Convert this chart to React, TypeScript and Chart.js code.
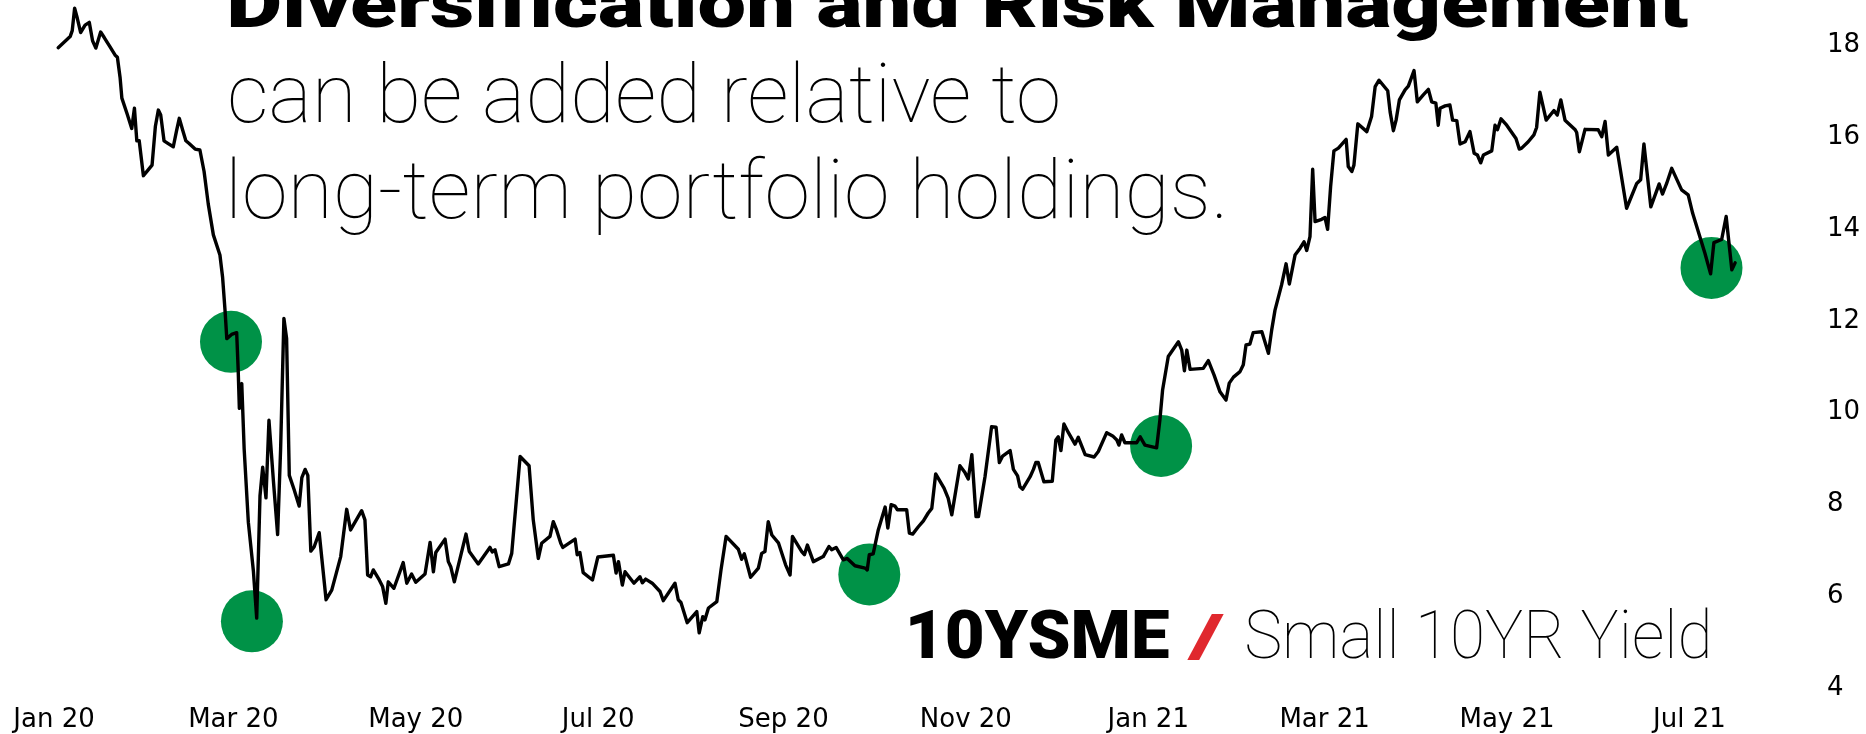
import React, { useEffect, useRef } from 'react';
import { Chart, registerables } from 'chart.js';

Chart.register(...registerables);

// ---- data (x = days since 1 Jan 2020, y = yield value) ----
const dayOffsets = [
  1.4, 5.4, 6.1, 6.9, 7.8, 8.9, 10.4, 11.8, 12.9, 14.0, 15.6, 16.8, 18.7, 20.4, 21.2, 22.1, 22.7, 24.5, 26.0, 26.9,
  27.7, 28.5, 29.9, 31.3, 32.8, 33.9, 34.9, 35.7, 36.8, 38.2, 39.9, 41.0, 41.9, 43.1, 44.1, 45.2, 47.2, 48.8, 50.2, 51.6,
  53.3, 55.5, 56.4, 57.2, 57.8, 59.4, 61.1, 61.6, 62.0, 62.8, 63.6, 65.0, 66.7, 67.8, 68.9, 69.8, 70.9, 71.9, 73.4, 74.8,
  75.8, 76.9, 77.8, 78.7, 80.3, 82.0, 82.9, 84.0, 84.9, 85.9, 87.0, 88.7, 91.0, 92.9, 95.9, 97.9, 99.2, 102.9, 104.0, 104.9,
  105.9, 106.8, 108.8, 109.9, 111.0, 111.8, 113.7, 116.8, 118.0, 119.6, 121.0, 124.1, 125.8, 126.9, 127.7, 130.8, 131.9, 132.7, 133.9, 137.8,
  138.9, 141.9, 145.8, 146.6, 147.5, 148.9, 152.0, 153.1, 155.9, 158.9, 160.3, 162.0, 163.1, 165.9, 167.0, 168.1, 169.5, 170.2, 174.3, 175.0,
  175.9, 177.0, 180.1, 181.9, 187.1, 188.0, 188.8, 190.1, 191.0, 194.0, 196.0, 196.8, 197.9, 200.1, 202.7, 203.8, 207.7, 208.8, 209.7, 211.8,
  215.0, 215.8, 217.0, 217.7, 218.9, 221.7, 223.1, 224.8, 228.9, 230.0, 230.9, 233.0, 235.6, 236.7, 237.8, 238.9, 240.1, 242.3, 244.7, 246.2,
  247.0, 250.1, 251.0, 252.0, 254.0, 257.3, 259.2, 260.1, 261.6, 264.0, 265.3, 267.9, 271.3, 272.0, 272.7, 274.0, 275.7, 278.0, 278.9, 280.0,
  281.3, 282.1, 285.2, 286.1, 287.2, 289.1, 290.8, 292.4, 293.6, 294.9, 297.7, 299.1, 300.3, 303.0, 304.7, 305.8, 307.0, 308.4, 309.2, 311.4,
  313.6, 315.1, 316.2, 317.3, 319.8, 320.9, 322.3, 323.1, 324.0, 326.5, 327.6, 328.4, 329.2, 331.1, 333.9, 335.1, 335.9, 336.8, 337.8, 339.3,
  341.5, 342.6, 344.9, 347.9, 349.3, 352.1, 354.1, 355.5, 356.2, 357.1, 358.2, 362.1, 363.3, 364.9, 368.8, 369.9, 370.8, 372.7, 376.1, 377.2,
  378.1, 378.9, 380.0, 384.4, 386.1, 388.0, 390.0, 392.0, 393.1, 394.5, 396.7, 397.8, 398.7, 400.0, 401.1, 404.0, 406.2, 407.3, 408.4, 410.6,
  412.1, 413.2, 415.1, 416.8, 418.1, 419.0, 420.1, 421.0, 421.8, 424.0, 425.1, 426.0, 427.0, 428.1, 429.6, 432.2, 432.9, 434.1, 434.8, 436.1,
  439.1, 440.7, 441.9, 443.2, 446.1, 446.9, 448.0, 448.9, 450.0, 451.9, 453.0, 454.9, 456.0, 458.0, 459.7, 460.8, 462.2, 463.0, 463.6, 465.3,
  466.9, 467.8, 469.2, 470.3, 472.0, 473.6, 475.0, 476.1, 477.2, 478.1, 480.9, 482.0, 482.8, 484.0, 485.9, 489.0, 490.1, 490.9, 493.1, 495.0,
  495.9, 497.0, 499.1, 501.7, 502.8, 504.0, 505.4, 508.8, 509.3, 510.2, 512.1, 516.5, 517.7, 518.8, 519.9, 522.7, 526.0, 529.4, 530.7, 531.8,
  534.1, 536.9, 538.0, 539.4, 541.1, 544.4, 546.6, 548.1, 552.2, 554.1, 555.2, 557.8, 559.3, 561.2, 562.3,
];

const yieldValues = [
  17.91, 18.15, 18.28, 18.77, 18.55, 18.24, 18.40, 18.46, 18.06, 17.90, 18.25, 18.13, 17.93, 17.75, 17.70, 17.26, 16.81, 16.46, 16.15, 16.59,
  15.88, 15.88, 15.12, 15.23, 15.35, 16.19, 16.55, 16.44, 15.88, 15.82, 15.75, 16.10, 16.37, 16.10, 15.88, 15.82, 15.70, 15.68, 15.21, 14.50,
  13.83, 13.39, 12.90, 12.19, 11.57, 11.66, 11.70, 10.90, 10.05, 10.59, 9.17, 7.57, 6.50, 5.48, 8.14, 8.77, 8.10, 9.79, 8.46, 7.30,
  9.17, 12.01, 11.57, 8.59, 8.28, 7.92, 8.54, 8.72, 8.59, 6.94, 7.03, 7.34, 5.88, 6.09, 6.82, 7.85, 7.40, 7.82, 7.62, 6.42,
  6.38, 6.53, 6.31, 6.17, 5.80, 6.27, 6.13, 6.69, 6.24, 6.44, 6.26, 6.44, 7.13, 6.49, 6.91, 7.20, 6.71, 6.60, 6.27, 7.31,
  6.93, 6.66, 7.02, 6.92, 6.97, 6.60, 6.66, 6.89, 9.00, 8.80, 7.62, 6.78, 7.11, 7.26, 7.58, 7.40, 7.11, 7.02, 7.20, 6.86,
  6.91, 6.47, 6.31, 6.81, 6.85, 6.46, 6.71, 6.20, 6.49, 6.24, 6.38, 6.25, 6.33, 6.24, 6.06, 5.86, 6.24, 5.88, 5.82, 5.38,
  5.62, 5.16, 5.51, 5.44, 5.70, 5.84, 6.53, 7.26, 6.98, 6.76, 6.88, 6.37, 6.57, 6.89, 6.93, 7.58, 7.29, 7.12, 6.64, 6.42,
  7.26, 6.93, 6.86, 7.07, 6.71, 6.82, 7.04, 6.97, 7.02, 6.75, 6.78, 6.62, 6.57, 6.53, 6.86, 6.88, 7.40, 7.90, 7.44, 7.95,
  7.92, 7.84, 7.84, 7.33, 7.31, 7.47, 7.60, 7.77, 7.87, 8.62, 8.31, 8.09, 7.73, 8.80, 8.65, 8.51, 9.04, 7.69, 7.69, 8.56,
  9.65, 9.64, 8.87, 9.01, 9.13, 8.72, 8.58, 8.34, 8.29, 8.56, 8.72, 8.87, 8.87, 8.45, 8.46, 9.36, 9.43, 9.13, 9.71, 9.52,
  9.27, 9.42, 9.04, 8.99, 9.11, 9.52, 9.45, 9.36, 9.25, 9.47, 9.30, 9.30, 9.43, 9.25, 9.19, 9.80, 10.45, 11.18, 11.50, 11.32,
  10.87, 11.32, 10.90, 10.92, 11.09, 10.78, 10.41, 10.23, 10.60, 10.73, 10.85, 11.00, 11.43, 11.45, 11.70, 11.72, 11.25, 11.76, 12.19, 12.74,
  13.20, 12.76, 13.39, 13.54, 13.68, 13.49, 13.79, 15.26, 14.12, 14.17, 14.21, 13.95, 14.88, 15.66, 15.72, 15.91, 15.32, 15.21, 15.35, 16.25,
  16.08, 16.41, 17.06, 17.20, 16.97, 16.51, 16.10, 16.33, 16.77, 16.99, 17.07, 17.41, 16.73, 16.88, 17.00, 16.73, 16.70, 16.22, 16.59, 16.64,
  16.66, 16.33, 16.32, 15.81, 15.86, 16.08, 15.61, 15.57, 15.40, 15.57, 15.66, 16.22, 16.12, 16.36, 16.22, 15.93, 15.70, 15.72, 15.86, 16.01,
  16.17, 16.94, 16.33, 16.54, 16.44, 16.77, 16.33, 16.12, 16.06, 15.64, 16.13, 16.12, 15.97, 16.30, 15.57, 15.74, 14.41, 14.95, 15.03, 15.81,
  14.44, 14.94, 14.72, 14.95, 15.28, 14.81, 14.70, 14.30, 13.43, 12.98, 13.66, 13.73, 14.23, 13.07, 13.22,
];

const highlightDays = [59.2, 66.2, 272.7, 370.3, 554.4];
const highlightValues = [11.5, 5.41, 6.43, 9.23, 13.11];

const xTickDates = ['2020-01-01', '2020-03-01', '2020-05-01', '2020-07-01', '2020-09-01', '2020-11-01', '2021-01-01', '2021-03-01', '2021-05-01', '2021-07-01'];
const xTickLabels = ['Jan 20', 'Mar 20', 'May 20', 'Jul 20', 'Sep 20', 'Nov 20', 'Jan 21', 'Mar 21', 'May 21', 'Jul 21'];
const yTicks = [4, 6, 8, 10, 12, 14, 16, 18];

const titleText = 'Diversification and Risk Management';
const subtitleLines = ['can be added relative to', 'long-term portfolio holdings.'];
const tickerText = '10YSME';
const slashText = '/';
const seriesName = 'Small 10YR Yield';

const ORIGIN = Date.UTC(2020, 0, 1);
const dayOf = (iso: string) => (Date.parse(iso + 'T00:00:00Z') - ORIGIN) / 86400000;

function drawFitted(ctx: CanvasRenderingContext2D, text: string, font: string, color: string, left: number, right: number, baseline: number) {
  ctx.save();
  ctx.font = font;
  ctx.fillStyle = color;
  ctx.textAlign = 'left';
  ctx.textBaseline = 'alphabetic';
  const m = ctx.measureText(text);
  const inkW = m.actualBoundingBoxLeft + m.actualBoundingBoxRight;
  const sx = inkW > 0 ? (right - left) / inkW : 1;
  ctx.translate(left, baseline);
  ctx.scale(sx, 1);
  ctx.fillText(text, m.actualBoundingBoxLeft, 0);
  ctx.restore();
}

const textPlugin = {
  id: 'overlayText',
  afterDraw(chart: any) {
    const ctx = chart.ctx as CanvasRenderingContext2D;
    drawFitted(ctx, titleText, '900 68px Roboto', '#000', 230, 1688, 27);
    drawFitted(ctx, subtitleLines[0], '100 82px Roboto', '#000', 230, 1058, 122);
    drawFitted(ctx, subtitleLines[1], '100 82px Roboto', '#000', 232, 1222, 218);
    drawFitted(ctx, tickerText, '900 67px Roboto', '#000', 910, 1169, 658);
    drawFitted(ctx, slashText, '900 60px Roboto', '#e0282e', 1187, 1224, 656);
    drawFitted(ctx, seriesName, '100 67px Roboto', '#000', 1247, 1708, 658);
  },
};

export default function App() {
  const ref = useRef<HTMLCanvasElement | null>(null);

  useEffect(() => {
    if (!ref.current) return;
    const tickDays = xTickDates.map(dayOf);
    const chart = new Chart(ref.current, {
      type: 'line',
      data: {
        datasets: [
          {
            label: seriesName,
            data: dayOffsets.map((d, i) => ({ x: d, y: yieldValues[i] })),
            borderColor: '#000',
            borderWidth: 3.4,
            pointRadius: 0,
            tension: 0,
            fill: false,
            borderJoinStyle: 'round',
            borderCapStyle: 'round',
            order: 1,
          },
          {
            label: 'highlights',
            data: highlightDays.map((d, i) => ({ x: d, y: highlightValues[i] })),
            showLine: false,
            pointRadius: 31,
            pointBackgroundColor: '#009247',
            pointBorderWidth: 0,
            pointBorderColor: '#009247',
            order: 2,
          },
        ],
      },
      options: {
        animation: false,
        responsive: false,
        devicePixelRatio: 1,
        events: [],
        layout: { autoPadding: false, padding: { left: 54, top: 0, right: 0, bottom: 0 } },
        plugins: { legend: { display: false }, tooltip: { enabled: false }, title: { display: false } },
        scales: {
          x: {
            type: 'linear',
            position: 'bottom',
            min: 0,
            max: 584,
            grid: { display: false, drawTicks: false },
            border: { display: false },
            afterBuildTicks: (s: any) => { s.ticks = tickDays.map((v) => ({ value: v })); },
            afterFit: (s: any) => { s.height = 34; s.paddingLeft = 0; s.paddingRight = 0; },
            ticks: {
              autoSkip: false,
              maxRotation: 0,
              padding: 5,
              color: '#000',
              font: { family: 'DejaVu Sans', size: 26 },
              callback: (_v: any, i: number) => xTickLabels[i],
            },
          },
          y: {
            type: 'linear',
            position: 'right',
            min: 3.695,
            max: 18.948,
            grid: { display: false, drawTicks: false },
            border: { display: false },
            afterBuildTicks: (s: any) => { s.ticks = yTicks.map((v) => ({ value: v })); },
            afterFit: (s: any) => { s.width = 66; s.paddingTop = 0; s.paddingBottom = 0; },
            ticks: {
              padding: 27,
              labelOffset: 2,
              color: '#000',
              font: { family: 'DejaVu Sans', size: 26 },
              callback: (v: any) => String(v),
            },
          },
        },
      },
      plugins: [textPlugin],
    } as any);
    return () => chart.destroy();
  }, []);

  return (
    <div style={{ position: 'absolute', left: 0, top: 0, width: 1866, height: 734, background: '#fff' }}>
      <canvas ref={ref} width={1866} height={734} style={{ display: 'block', width: 1866, height: 734 }} />
    </div>
  );
}
